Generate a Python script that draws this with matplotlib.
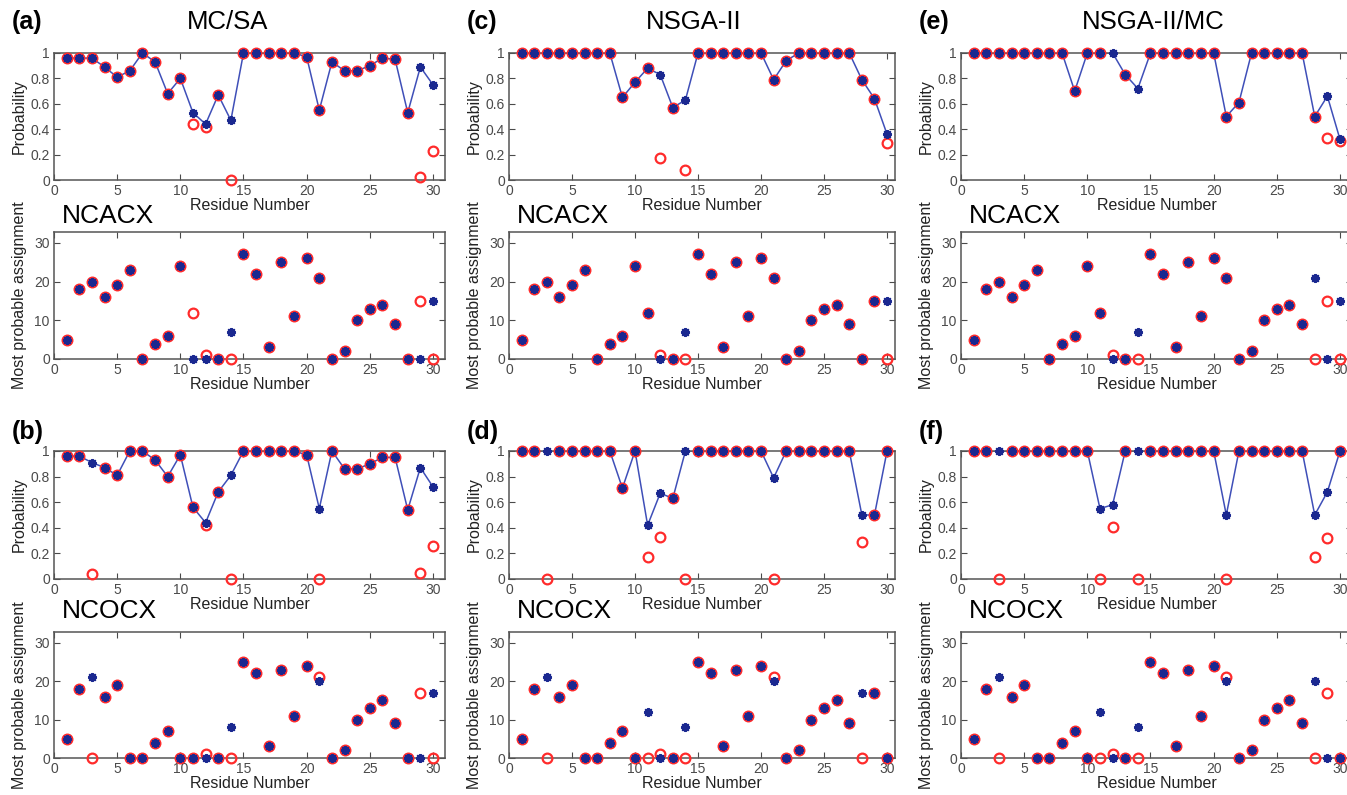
import numpy as np
import matplotlib.pyplot as plt

plt.rcParams['font.family'] = ['Liberation Sans', 'DejaVu Sans']

residues = np.arange(1, 31)
nan = np.nan

# ---- (a) MC/SA, NCACX
a_prob_best = [0.96, 0.96, 0.96, 0.89, 0.81, 0.86, 1.00, 0.93, 0.68, 0.80,
               0.53, 0.44, 0.67, 0.47, 1.00, 1.00, 1.00, 1.00, 1.00, 0.97,
               0.55, 0.93, 0.86, 0.86, 0.90, 0.96, 0.95, 0.53, 0.89, 0.75]
a_prob_true = [0.96, 0.96, 0.96, 0.89, 0.81, 0.86, 1.00, 0.93, 0.68, 0.80,
               0.44, 0.42, 0.67, 0.00, 1.00, 1.00, 1.00, 1.00, 1.00, 0.97,
               0.55, 0.93, 0.86, 0.86, 0.90, 0.96, 0.95, 0.53, 0.02, 0.23]
a_asg_best = [5, 18, 20, 16, 19, 23, 0, 4, 6, 24, 0, 0, 0, 7, 27,
              22, 3, 25, 11, 26, 21, 0, 2, 10, 13, 14, 9, 0, 0, 15]
a_asg_true = [5, 18, 20, 16, 19, 23, 0, 4, 6, 24, 12, 1, 0, 0, 27,
              22, 3, 25, 11, 26, 21, 0, 2, 10, 13, 14, 9, 0, 15, 0]

# ---- (c) NSGA-II, NCACX
c_prob_best = [1, 1, 1, 1, 1, 1, 1, 1, 0.65, 0.77,
               0.88, 0.83, 0.57, 0.63, 1, 1, 1, 1, 1, 1,
               0.79, 0.94, 1, 1, 1, 1, 1, 0.79, 0.64, 0.36]
c_prob_true = [1, 1, 1, 1, 1, 1, 1, 1, 0.65, 0.77,
               0.88, 0.17, 0.57, 0.08, 1, 1, 1, 1, 1, 1,
               0.79, 0.94, 1, 1, 1, 1, 1, 0.79, 0.64, 0.29]
c_asg_best = [5, 18, 20, 16, 19, 23, 0, 4, 6, 24, 12, 0, 0, 7, 27,
              22, 3, 25, 11, 26, 21, 0, 2, 10, 13, 14, 9, 0, 15, 15]
c_asg_true = [5, 18, 20, 16, 19, 23, 0, 4, 6, 24, 12, 1, 0, 0, 27,
              22, 3, 25, 11, 26, 21, 0, 2, 10, 13, 14, 9, 0, 15, 0]

# ---- (e) NSGA-II/MC, NCACX
e_prob_best = [1, 1, 1, 1, 1, 1, 1, 1, 0.70, 1,
               1, 1, 0.83, 0.72, 1, 1, 1, 1, 1, 1,
               0.50, 0.61, 1, 1, 1, 1, 1, 0.50, 0.66, 0.32]
e_prob_true = [1, 1, 1, 1, 1, 1, 1, 1, 0.70, 1,
               1, nan, 0.83, nan, 1, 1, 1, 1, 1, 1,
               0.50, 0.61, 1, 1, 1, 1, 1, 0.50, 0.33, 0.31]
e_asg_best = [5, 18, 20, 16, 19, 23, 0, 4, 6, 24, 12, 0, 0, 7, 27,
              22, 3, 25, 11, 26, 21, 0, 2, 10, 13, 14, 9, 21, 0, 15]
e_asg_true = [5, 18, 20, 16, 19, 23, 0, 4, 6, 24, 12, 1, 0, 0, 27,
              22, 3, 25, 11, 26, 21, 0, 2, 10, 13, 14, 9, 0, 15, 0]

# ---- (b) MC/SA, NCOCX
b_prob_best = [0.96, 0.96, 0.91, 0.87, 0.81, 1, 1, 0.93, 0.80, 0.97,
               0.56, 0.44, 0.68, 0.81, 1, 1, 1, 1, 1, 0.97,
               0.55, 1, 0.86, 0.86, 0.90, 0.95, 0.95, 0.54, 0.87, 0.72]
b_prob_true = [0.96, 0.96, 0.04, 0.87, 0.81, 1, 1, 0.93, 0.80, 0.97,
               0.56, 0.42, 0.68, 0.00, 1, 1, 1, 1, 1, 0.97,
               0.00, 1, 0.86, 0.86, 0.90, 0.95, 0.95, 0.54, 0.05, 0.26]
b_asg_best = [5, 18, 21, 16, 19, 0, 0, 4, 7, 0, 0, 0, 0, 8, 25,
              22, 3, 23, 11, 24, 20, 0, 2, 10, 13, 15, 9, 0, 0, 17]
b_asg_true = [5, 18, 0, 16, 19, 0, 0, 4, 7, 0, 0, 1, 0, 0, 25,
              22, 3, 23, 11, 24, 21, 0, 2, 10, 13, 15, 9, 0, 17, 0]

# ---- (d) NSGA-II, NCOCX
d_prob_best = [1, 1, 1, 1, 1, 1, 1, 1, 0.71, 1,
               0.42, 0.67, 0.63, 1, 1, 1, 1, 1, 1, 1,
               0.79, 1, 1, 1, 1, 1, 1, 0.50, 0.50, 1]
d_prob_true = [1, 1, 0, 1, 1, 1, 1, 1, 0.71, 1,
               0.17, 0.33, 0.63, 0, 1, 1, 1, 1, 1, 1,
               0, 1, 1, 1, 1, 1, 1, 0.29, 0.50, 1]
d_asg_best = [5, 18, 21, 16, 19, 0, 0, 4, 7, 0, 12, 0, 0, 8, 25,
              22, 3, 23, 11, 24, 20, 0, 2, 10, 13, 15, 9, 17, 17, 0]
d_asg_true = [5, 18, 0, 16, 19, 0, 0, 4, 7, 0, 0, 1, 0, 0, 25,
              22, 3, 23, 11, 24, 21, 0, 2, 10, 13, 15, 9, 0, 17, 0]

# ---- (f) NSGA-II/MC, NCOCX
f_prob_best = [1, 1, 1, 1, 1, 1, 1, 1, 1, 1,
               0.55, 0.58, 1, 1, 1, 1, 1, 1, 1, 1,
               0.50, 1, 1, 1, 1, 1, 1, 0.50, 0.68, 1]
f_prob_true = [1, 1, 0, 1, 1, 1, 1, 1, 1, 1,
               0, 0.41, 1, 0, 1, 1, 1, 1, 1, 1,
               0, 1, 1, 1, 1, 1, 1, 0.17, 0.32, 1]
f_asg_best = [5, 18, 21, 16, 19, 0, 0, 4, 7, 0, 12, 0, 0, 8, 25,
              22, 3, 23, 11, 24, 20, 0, 2, 10, 13, 15, 9, 20, 0, 0]
f_asg_true = [5, 18, 0, 16, 19, 0, 0, 4, 7, 0, 0, 1, 0, 0, 25,
              22, 3, 23, 11, 24, 21, 0, 2, 10, 13, 15, 9, 0, 17, 0]

titles = ['MC/SA', 'NSGA-II', 'NSGA-II/MC']
spectra = ['NCACX', 'NCOCX']
letters = [['(a)', '(c)', '(e)'], ['(b)', '(d)', '(f)']]
prob_data = [[(a_prob_best, a_prob_true), (c_prob_best, c_prob_true), (e_prob_best, e_prob_true)],
             [(b_prob_best, b_prob_true), (d_prob_best, d_prob_true), (f_prob_best, f_prob_true)]]
asg_data = [[(a_asg_best, a_asg_true), (c_asg_best, c_asg_true), (e_asg_best, e_asg_true)],
            [(b_asg_best, b_asg_true), (d_asg_best, d_asg_true), (f_asg_best, f_asg_true)]]

W, H = 1347, 795
fig = plt.figure(figsize=(W / 100, H / 100), dpi=100)

BLUE = '#1a2890'
LINE = '#3f4fb8'
RED = '#ff2b2b'
GREY = '#4a4a4a'
STAR = (8, 2, 0)   # matlab-like asterisk

col_left = [54, 509, 961]
col_width = [391, 386, 391]
col_xmax = [30.95, 30.63, 30.95]
title_x = [228, 694, 1153]
# (top, bottom) in pixels for prob / assignment axes of each row
row_prob = [(53, 180), (451, 579)]
row_asg = [(232, 359), (632, 758)]


def px_axes(left, top, width, bottom):
    return fig.add_axes([left / W, 1 - bottom / H, width / W, (bottom - top) / H])


def style(ax, xmax):
    ax.set_xlim(0, xmax)
    ax.set_xticks([0, 5, 10, 15, 20, 25, 30])
    ax.tick_params(direction='in', top=True, right=True, length=4,
                   labelsize=10, colors=GREY, pad=3)
    for s in ax.spines.values():
        s.set_color('#555555')
        s.set_linewidth(1.1)
    ax.set_xlabel('Residue Number', fontsize=11.5, labelpad=0, color='#222222')


def draw(ax, best, true, line=True):
    if line:
        ax.plot(residues, best, '-', color=LINE, lw=1.1, zorder=2)
    ax.plot(residues, true, 'o', mfc='none', mec=RED, ms=7, mew=1.6,
            clip_on=False, zorder=3)
    ax.plot(residues, best, ls='none', marker=STAR, mec=BLUE, mfc=BLUE,
            ms=6.5, mew=1.4, clip_on=False, zorder=4)


for r in range(2):
    for c in range(3):
        left, width, xmax = col_left[c], col_width[c], col_xmax[c]

        ax = px_axes(left, row_prob[r][0], width, row_prob[r][1])
        draw(ax, *prob_data[r][c])
        style(ax, xmax)
        ax.set_ylim(0, 1)
        ax.set_yticks([0, 0.2, 0.4, 0.6, 0.8, 1])
        ax.set_yticklabels(['0', '0.2', '0.4', '0.6', '0.8', '1'])
        ax.set_ylabel('Probability', fontsize=11.5, labelpad=3, color='#222222')

        ax2 = px_axes(left, row_asg[r][0], width, row_asg[r][1])
        draw(ax2, *asg_data[r][c], line=False)
        style(ax2, xmax)
        ax2.set_ylim(0, 32.8)
        ax2.set_yticks([0, 10, 20, 30])
        ax2.set_ylabel('Most probable assignment', fontsize=11.5, labelpad=5,
                       color='#222222')

        # panel letter, method title and spectrum name
        ly = 22 if r == 0 else 432
        fig.text((left - 42) / W, 1 - ly / H, letters[r][c], fontsize=18,
                 fontweight='bold', va='center', ha='left')
        if r == 0:
            fig.text(title_x[c] / W, 1 - ly / H, titles[c], fontsize=18.5,
                     va='center', ha='center')
        sy = 216 if r == 0 else 611
        fig.text((left + 8) / W, 1 - sy / H, spectra[r], fontsize=19,
                 va='center', ha='left')

fig.savefig('out.png', dpi=100)
